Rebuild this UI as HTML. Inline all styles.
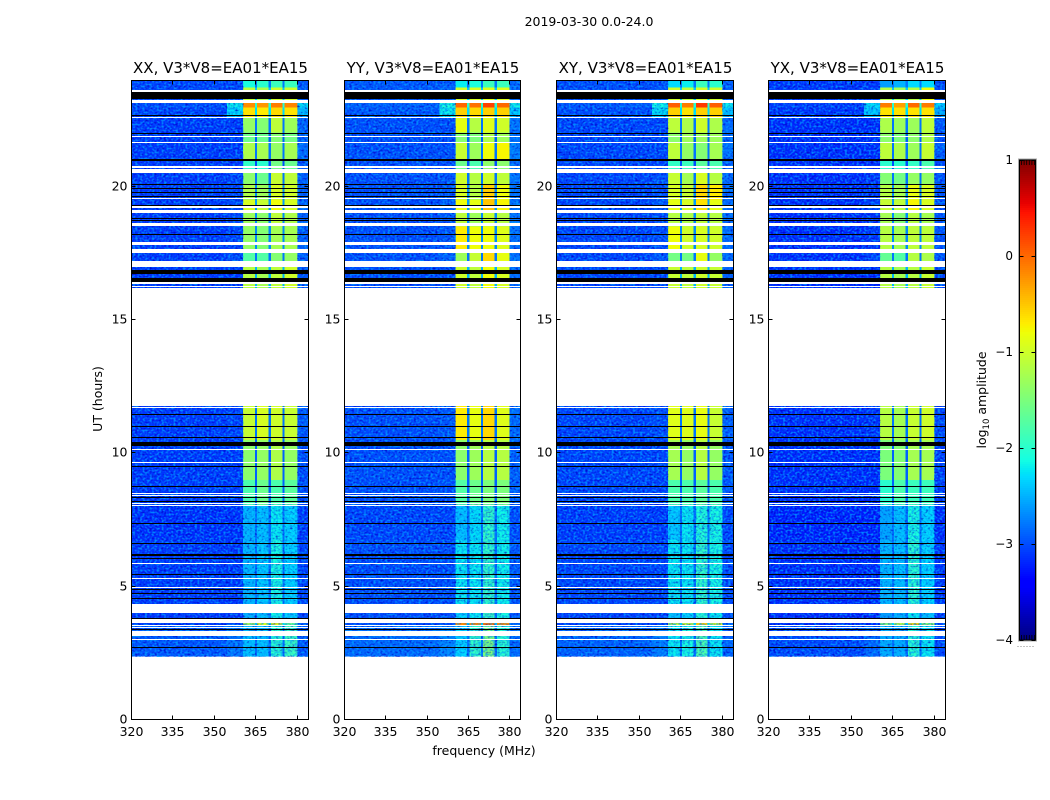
<!DOCTYPE html>
<html lang="en">
<head>
<meta charset="utf-8">
<title>2019-03-30 0.0-24.0</title>
<style>
html,body{margin:0;padding:0;background:#fff;width:1050px;height:800px;overflow:hidden}
svg{display:block}
text{font-family:"DejaVu Sans","Liberation Sans",sans-serif;fill:#000}
</style>
</head>
<body>
<svg id="chart" xmlns="http://www.w3.org/2000/svg" width="1050" height="800" viewBox="0 0 1050 800">
  <defs>
    <filter id="speckle" x="0" y="0" width="100%" height="100%" color-interpolation-filters="sRGB">
      <feTurbulence type="fractalNoise" baseFrequency="0.42 0.5" numOctaves="1" seed="7" result="n"/>
      <feColorMatrix in="n" type="matrix" values="0 0 0 0 0  0 0 0 0 0  0 0 0 0 0.75  3.0 0 0 0 -1.45" result="dark"/>
      <feColorMatrix in="n" type="matrix" values="0 0 0 0 0  0 0 0 0 0.62  0 0 0 0 1  0 3.4 0 0 -1.5" result="light"/>
      <feMerge><feMergeNode in="dark"/><feMergeNode in="light"/></feMerge>
    </filter>
  </defs>
  <text x="589" y="26" font-size="12.5" text-anchor="middle">2019-03-30 0.0-24.0</text>
  <text x="102" y="399" font-size="12.5" text-anchor="middle" transform="rotate(-90 102 399)">UT (hours)</text>
  <text x="484" y="755" font-size="12.5" text-anchor="middle">frequency (MHz)</text>
  <text x="986" y="400" font-size="12.5" text-anchor="middle" transform="rotate(-90 986 400)">log<tspan font-size="8.5" dy="3">10</tspan><tspan dy="-3"> amplitude</tspan></text>
  <g id="panels"></g>
  <g id="colorbar"></g>
</svg>
<script>
// ---- chart data -------------------------------------------------------
const panelNames = ['XX', 'YY', 'XY', 'YX'];
const panelSuffix = ', V3*V8=EA01*EA15';
const xTicks = [320, 335, 350, 365, 380];
const yTicks = [0, 5, 10, 15, 20];
const colorTicks = [1, 0, -1, -2, -3, -4];

// frequency channel groups (MHz)
const leftBandEdges = [320, 354.5];
const rampEdges = [354.5, 360.4];
const subbandEdges = [[360.4, 364.6], [365.4, 369.6], [370.4, 374.6], [375.4, 380]];
const gapEdges = [[364.6, 365.4], [369.6, 370.4], [374.6, 375.4]];
const rightBandEdges = [380, 384];

// observing sections (UT hours)
const sectionHigh = [24.0, 23.70, 23.13, 22.95, 22.57, 22.01, 21.63, 20.96, 20.51, 20.09, 19.49, 19.0, 18.48, 17.65, 17.17, 11.76, 10.49, 8.99, 8.05, 6.74, 4.33, 3.62, 3.52];
const sectionLow = [23.70, 23.13, 22.95, 22.57, 22.01, 21.63, 20.96, 20.51, 20.09, 19.49, 19.0, 18.48, 17.65, 17.17, 16.19, 10.49, 8.99, 8.05, 6.74, 4.33, 3.62, 3.52, 2.36];

// log10 amplitude outside the subbands, per section
const leftLevels = [-3.05, -3.05, -3.0, -3.05, -3.1, -3.1, -3.1, -3.1, -3.1, -3.1, -3.1, -3.1, -3.1, -3.1, -3.1, -3.1, -3.1, -3.1, -3.15, -3.1, -3.1, -3.1, -2.95];
const rampLevels = [-3.05, -3.0, -2.15, -2.25, -3.1, -3.1, -3.1, -3.1, -3.05, -3.05, -3.0, -3.05, -3.05, -3.0, -3.1, -3.05, -3.1, -3.1, -3.15, -3.1, -3.1, -3.1, -2.8];
const gapLevels = [-2.8, -2.4, -2.0, -2.3, -2.8, -2.9, -2.8, -3.0, -2.8, -2.7, -2.6, -2.7, -2.7, -2.8, -2.5, -2.8, -2.9, -2.9, -2.85, -2.85, -2.85, -2.3, -2.85];
const rightLevels = [-2.95, -2.95, -2.2, -2.4, -2.9, -2.9, -2.85, -2.95, -2.9, -2.9, -2.9, -2.9, -2.9, -2.9, -2.95, -2.95, -3.0, -3.0, -3.1, -3.05, -3.05, -2.95, -2.95];
const panelBgOffsets = [-0.03, 0.07, 0.02, -0.1];

// subband log10 amplitude, per section [sb1, sb2, sb3, sb4]
const levelsXX = [[-2.1,-2.0,-1.9,-1.9],[-1.1,-1.2,-1.0,-1.0],[-.2,-.25,-.1,-.15],[-.65,-.7,-.6,-.65],[-1.35,-1.45,-1.1,-1.3],[-1.6,-1.6,-1.45,-1.55],[-1.2,-1.25,-1.35,-1.25],[-1.95,-2.0,-1.55,-1.6],[-1.4,-1.6,-1.05,-1.1],[-1.2,-1.3,-.95,-1.0],[-.95,-1.05,-.8,-.95],[-1.3,-1.4,-1.1,-1.2],[-1.35,-1.45,-1.25,-1.25],[-1.75,-1.75,-1.45,-1.35],[-1.15,-1.25,-1.1,-1.0],[-1.05,-.95,-1.0,-1.05],[-1.4,-1.35,-1.2,-1.35],[-1.8,-1.6,-1.8,-1.7],[-2.45,-2.4,-2.2,-2.3],[-2.45,-2.35,-2.1,-2.3],[-2.5,-2.4,-2.15,-2.35],[-1.2,-.95,-.75,-1.6],[-2.4,-2.4,-2.0,-1.9]];
const levelsYY = [[-2.2,-2.1,-1.9,-1.9],[-.95,-.95,-.9,-.9],[0,-.05,.2,0],[-.55,-.6,-.55,-.55],[-.85,-1.15,-.9,-1],[-1.45,-1.5,-1.2,-1.3],[-1.05,-1.3,-.8,-.75],[-1.6,-1.8,-1.4,-1.4],[-1.0,-1.15,-1.0,-1.1],[-.95,-1.15,-.55,-.8],[-.8,-.85,-.5,-.75],[-1.1,-1.3,-1.05,-1.15],[-.7,-.8,-.8,-.9],[-1.3,-1.05,-.6,-.85],[-1,-1.1,-.8,-.95],[-.7,-.85,-.6,-.9],[-1.4,-1.3,-1.15,-1.15],[-1.75,-1.6,-1.5,-1.5],[-2.4,-2.25,-1.95,-2.15],[-2.2,-2.2,-1.95,-2.15],[-2.3,-2.2,-1.9,-2.1],[-.2,-.2,-.1,-.2],[-2.3,-1.95,-1.5,-2.0]];
const levelsXY = [[-2.3,-2.2,-1.9,-2],[-1,-1.1,-.95,-1],[.05,-.1,.25,.05],[-.55,-.65,-.55,-.55],[-1.1,-1.2,-1,-1.2],[-1.4,-1.3,-1.3,-1.3],[-1.1,-1.35,-1.45,-1.25],[-1.95,-1.9,-1.7,-1.8],[-1.05,-1.25,-.95,-1.15],[-.95,-1.05,-.6,-.7],[-.85,-.95,-.65,-.85],[-1.15,-1.2,-1.1,-1.15],[-.8,-1,-.95,-1],[-1.55,-1.55,-.85,-1.35],[-1.05,-1.1,-1,-1.05],[-.9,-.9,-.85,-1.05],[-1.25,-1.35,-1.15,-1.35],[-1.8,-1.8,-1.7,-1.8],[-2.35,-2.2,-2.05,-2.1],[-2.2,-2.2,-1.95,-2.1],[-2.4,-2.3,-2.0,-2.2],[-1.1,-1.0,-.55,-.95],[-2.2,-2.1,-1.8,-2.2]];
const levelsYX = [[-2.6,-2.5,-2.3,-2.3],[-1.15,-1.25,-1.15,-.8],[-.1,-.3,0,-.1],[-.65,-.65,-.65,-.65],[-1.2,-1.3,-1.3,-1.1],[-1.4,-1.5,-1.4,-1.2],[-1.1,-1.2,-1.3,-1.05],[-2,-2,-1.95,-1.8],[-1.45,-1.55,-1.35,-1.35],[-1.15,-1.25,-.85,-.95],[-1.05,-1.1,-.75,-.95],[-1.25,-1.45,-1.15,-1.25],[-1.15,-1.25,-1.1,-1.1],[-1.65,-1.75,-1.15,-1.2],[-1.15,-1.25,-1.15,-1.05],[-1.15,-1.25,-1.05,-1.0],[-1.5,-1.45,-1.25,-1.25],[-2,-1.8,-1.9,-1.9],[-2.55,-2.4,-2.1,-2.3],[-2.45,-2.4,-2.0,-2.3],[-2.6,-2.5,-2.2,-2.4],[-1.4,-1.1,-.6,-1.4],[-2.5,-2.5,-2.0,-2.2]];

// time ranges with no data (UT hours: high, low)
const blankRanges = [[23.62,23.52],[23.24,23.13],[22.60,22.54],[21.90,21.86],[21.67,21.63],[20.74,20.69],[20.66,20.51],[19.57,19.53],[19.24,19.18],[19.12,19.0],[18.62,18.49],[17.89,17.84],[17.82,17.79],[17.65,17.49],[17.18,16.97],[16.39,16.34],[16.24,16.21],[11.73,11.70],[10.15,10.11],[9.66,9.62],[8.50,8.47],[8.41,8.385],[8.12,8.09],[8.05,8.01],[5.87,5.84],[5.31,5.27],[4.97,4.93],[4.33,3.98],[3.77,3.62],[3.53,3.50],[3.47,3.44],[3.32,3.13],[3.02,2.98]];
// time ranges with zero amplitude (UT hours: high, low)
const zeroRanges = [[23.52,23.26],[22.66,22.62],[22.00,21.97],[21.02,20.99],[20.97,20.95],[20.08,20.06],[19.93,19.90],[19.77,19.75],[19.62,19.60],[19.31,19.28],[18.81,18.77],[18.74,18.69],[18.22,18.19],[16.87,16.72],[16.54,16.39],[11.46,11.43],[10.99,10.96],[10.61,10.59],[10.42,10.24],[9.51,9.47],[8.76,8.72],[8.35,8.31],[8.20,8.17],[7.37,7.34],[6.62,6.59],[6.19,6.15],[6.06,6.03],[5.46,5.42],[4.88,4.84],[4.75,4.71],[4.56,4.52],[3.81,3.77],[3.40,3.36],[2.72,2.68]];

// ---- layout -----------------------------------------------------------
const panelLefts = [131.5, 344.5, 556.5, 768.5];
const panelRights = [308.5, 520.5, 733.5, 945.5];
const frameTop = 80.5;
const plotTop = 79.5;
const plotBottom = 719.5;
const freqMin = 320, freqMax = 384, utMin = 0, utMax = 24;
const cbLeft = 1019.5, cbRight = 1035.5, cbTop = 160, cbBottom = 640, cbMin = -4, cbMax = 1;
const TICK = '#000';
const NS = 'http://www.w3.org/2000/svg';

function yScale(ut) { return plotBottom - (ut - utMin) / (utMax - utMin) * (plotBottom - plotTop); }
function xScale(p, f) { return panelLefts[p] + (f - freqMin) / (freqMax - freqMin) * (panelRights[p] - panelLefts[p]); }
function cbScale(v) { return cbBottom - (v - cbMin) / (cbMax - cbMin) * (cbBottom - cbTop); }

function jetChannel(x, pts) {
  for (let i = 1; i < pts.length; i++) {
    if (x <= pts[i][0]) {
      const a = pts[i - 1], b = pts[i];
      return a[1] + (b[1] - a[1]) * (x - a[0]) / (b[0] - a[0]);
    }
  }
  return pts[pts.length - 1][1];
}
function jet(v) {
  const x = Math.max(0, Math.min(1, (v - cbMin) / (cbMax - cbMin)));
  const r = jetChannel(x, [[0, 0], [.35, 0], [.66, 1], [.89, 1], [1, .5]]);
  const g = jetChannel(x, [[0, 0], [.125, 0], [.375, 1], [.64, 1], [.91, 0], [1, 0]]);
  const b = jetChannel(x, [[0, .5], [.11, 1], [.34, 1], [.65, 0], [1, 0]]);
  return 'rgb(' + Math.round(r * 255) + ',' + Math.round(g * 255) + ',' + Math.round(b * 255) + ')';
}
function shape(tag, parent, attrs) {
  const el = document.createElementNS(NS, tag);
  for (const k in attrs) el.setAttribute(k, attrs[k]);
  parent.appendChild(el);
  return el;
}
function cell(parent, x0, x1, y0, y1, fill) {
  return shape('rect', parent, { x: x0, y: y0, width: x1 - x0, height: y1 - y0, fill: fill, 'shape-rendering': 'crispEdges' });
}
// flagged rows always occupy at least one whole pixel row
function rowCell(parent, x0, x1, hiUt, loUt, fill) {
  const y0 = Math.round(yScale(hiUt));
  const y1 = Math.max(y0 + 1, Math.round(yScale(loUt)));
  return cell(parent, x0, x1, y0, y1, fill);
}

const panelsRoot = document.getElementById('panels');
const allLevels = [levelsXX, levelsYY, levelsXY, levelsYX];

panelNames.forEach(function (name, p) {
  const g = shape('g', panelsRoot, {});
  
  

  const levels = allLevels[p];
  const x = function (f) { return xScale(p, f); };
  const dataTop = frameTop;

  sectionHigh.forEach(function (hi, s) {
    const y0 = Math.max(dataTop, yScale(hi)), y1 = yScale(sectionLow[s]);
    const left = cell(g, x(leftBandEdges[0]), x(leftBandEdges[1]), y0, y1, jet(leftLevels[s] + panelBgOffsets[p]));
    
    
    const ramp = cell(g, x(rampEdges[0]), x(rampEdges[1]), y0, y1, jet(rampLevels[s] + panelBgOffsets[p]));
    
    
    const right = cell(g, x(rightBandEdges[0]), x(rightBandEdges[1]), y0, y1, jet(rightLevels[s] + panelBgOffsets[p]));
    
    
    gapEdges.forEach(function (e) {
      const gap = cell(g, x(e[0]), x(e[1]), y0, y1, jet(gapLevels[s]));
      
      
    });
    subbandEdges.forEach(function (e, b) {
      const sb = cell(g, x(e[0]), x(e[1]), y0, y1, jet(levels[s][b]));
      
      
    });
  });

  // receiver-noise speckle texture over the quiet channels
  const speckleTop = dataTop;
  const speckleBottom = yScale(2.36);
  const speckleLeft = shape('rect', g, { x: x(freqMin), y: speckleTop, width: x(subbandEdges[0][0]) - x(freqMin), height: speckleBottom - speckleTop, filter: 'url(#speckle)', fill: '#000', opacity: 0.8 });
  
  
  const speckleRight = shape('rect', g, { x: x(rightBandEdges[0]), y: speckleTop, width: x(rightBandEdges[1]) - x(rightBandEdges[0]), height: speckleBottom - speckleTop, filter: 'url(#speckle)', fill: '#000', opacity: 0.8 });
  
  
  const speckleLow = shape('rect', g, { x: x(subbandEdges[0][0]), y: yScale(8.05), width: x(rightBandEdges[0]) - x(subbandEdges[0][0]), height: speckleBottom - yScale(8.05), filter: 'url(#speckle)', fill: '#000', opacity: 0.7 });
  
  

  // cover the empty time span between observing blocks
  const coverMid = cell(g, x(freqMin), x(freqMax), yScale(16.19), yScale(11.76), '#fff');
  
  

  blankRanges.forEach(function (r) {
    const c = rowCell(g, x(freqMin), x(freqMax), r[0], r[1], '#fff');
    
    
  });
  zeroRanges.forEach(function (r) {
    const c = rowCell(g, x(freqMin), x(freqMax), r[0], r[1], '#000');
    
    
  });

  // axes frame and ticks
  const frame = shape('rect', g, { x: panelLefts[p], y: frameTop, width: panelRights[p] - panelLefts[p], height: plotBottom - frameTop, fill: 'none', stroke: '#000', 'stroke-width': 1 });
  
  

  xTicks.forEach(function (t) {
    const px = Math.floor(x(t)) + .5;
    const tb = shape('line', g, { x1: px, x2: px, y1: plotBottom, y2: plotBottom - 4, stroke: TICK, 'stroke-width': 1 });
    
    
    const tt = shape('line', g, { x1: px, x2: px, y1: frameTop, y2: frameTop + 4, stroke: TICK, 'stroke-width': 1 });
    
    
    const lab = shape('text', g, { x: px, y: 736, 'font-size': 12.5, 'text-anchor': 'middle' });
    lab.textContent = t;
    
    
  });
  yTicks.forEach(function (t) {
    const py = Math.floor(yScale(t)) + .5;
    const tl = shape('line', g, { x1: panelLefts[p], x2: panelLefts[p] + 4, y1: py, y2: py, stroke: TICK, 'stroke-width': 1 });
    
    
    const tr = shape('line', g, { x1: panelRights[p], x2: panelRights[p] - 4, y1: py, y2: py, stroke: TICK, 'stroke-width': 1 });
    
    
    const lab = shape('text', g, { x: panelLefts[p] - 4, y: py + 4, 'font-size': 12.5, 'text-anchor': 'end' });
    lab.textContent = t;
    
    
  });

  const title = shape('text', g, { x: (panelLefts[p] + panelRights[p]) / 2 + 0.5, y: 73, 'font-size': 15, 'text-anchor': 'middle' });
  title.textContent = name + panelSuffix;
  
  
});

// ---- colorbar ---------------------------------------------------------
const cb = document.getElementById('colorbar');
for (let i = 0; i < 240; i++) {
  const v0 = cbMin + (cbMax - cbMin) * i / 240;
  const v1 = cbMin + (cbMax - cbMin) * (i + 1) / 240;
  const strip = cell(cb, cbLeft, cbRight, cbScale(v1), cbScale(v0), jet((v0 + v1) / 2));
  
  
}
const cbHalo = shape('rect', cb, { x: cbLeft - 1, y: cbTop - 1, width: cbRight - cbLeft + 2, height: cbBottom - cbTop + 2, fill: 'none', stroke: '#aaa', 'stroke-width': 1 });


const cbFrame = shape('rect', cb, { x: cbLeft, y: cbTop, width: cbRight - cbLeft, height: cbBottom - cbTop, fill: 'none', stroke: '#000', 'stroke-width': 1 });


colorTicks.forEach(function (t) {
  const py = Math.floor(cbScale(t)) + .5;
  const a = shape('line', cb, { x1: cbLeft, x2: cbLeft + 4, y1: py, y2: py, stroke: TICK, 'stroke-width': 1 });
  
  
  const b = shape('line', cb, { x1: cbRight, x2: cbRight - 4, y1: py, y2: py, stroke: TICK, 'stroke-width': 1 });
  
  
  const lab = shape('text', cb, { x: 1013, y: py + 3.5, 'font-size': 12, 'text-anchor': 'end' });
  lab.textContent = t < 0 ? '\u2212' + (-t) : String(t);
  
  
});
for (let k = 0; k < 6; k++) {
  const px = 1021.5 + k * 2.6;
  const top = shape('line', cb, { x1: px, x2: px, y1: cbTop, y2: cbTop + 5, stroke: '#000', 'stroke-width': 0.8 });
  
  
  const bot = shape('line', cb, { x1: px, x2: px, y1: cbBottom, y2: cbBottom - 5, stroke: '#000', 'stroke-width': 0.8 });
  
  
  const dot = shape('rect', cb, { x: 1017.5 + k * 3, y: 646, width: 1, height: 1, fill: '#888' });
  
  
}
</script>
</body>
</html>
